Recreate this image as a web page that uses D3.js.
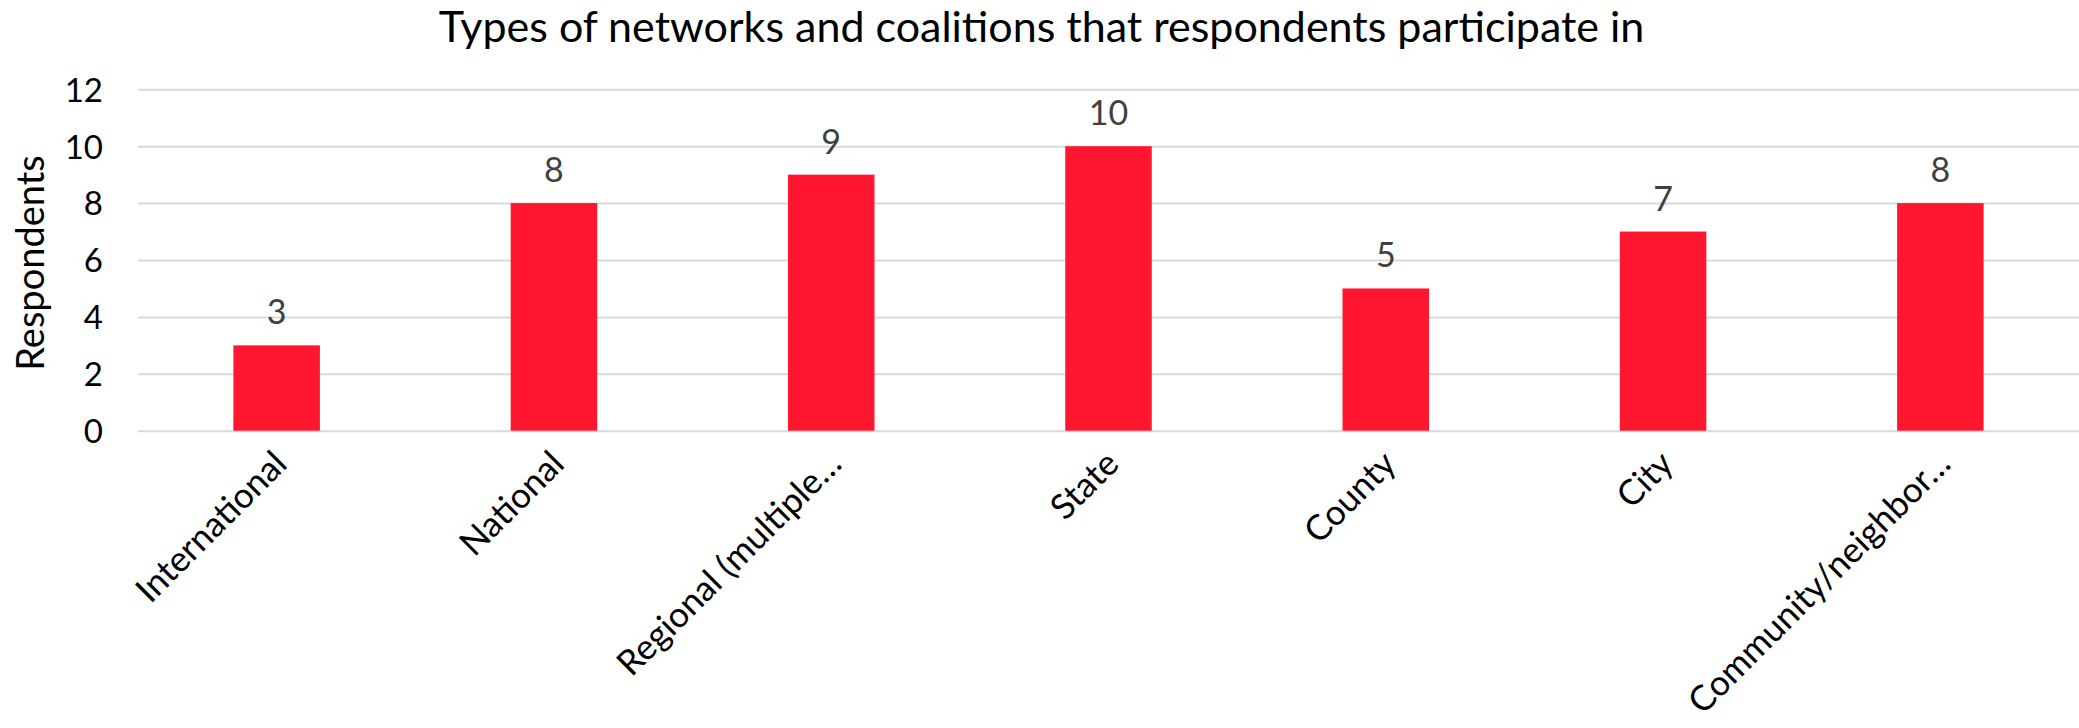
<!DOCTYPE html>
<html>
<head>
<meta charset="utf-8">
<script src="https://cdn.jsdelivr.net/npm/d3@7"></script>
<style>
  body { margin: 0; background: #fff; }
  text { font-family: Lato, "Open Sans", sans-serif; }
</style>
</head>
<body>
<div id="barChart"></div>
<script>
// chart data
var categories = ["International", "National", "Regional (multiple\u2026", "State", "County", "City", "Community/neighbor\u2026"];
var respondents = [3, 8, 9, 10, 5, 7, 8];
var yTicks = [0, 2, 4, 6, 8, 10, 12];

var W = 2079, H = 728;
var margin = { top: 89.3, right: 0, bottom: 297.3, left: 138 },
    width = W - margin.left - margin.right,
    height = H - margin.top - margin.bottom;

var svg = d3.select("#barChart")
    .append("svg")
    .attr("width", W)
    .attr("height", H);

var g = svg.append("g")
    .attr("transform", "translate(" + margin.left + "," + margin.top + ")");

var x = d3.scaleBand()
    .domain(categories)
    .range([0, width])
    .paddingInner(0.688)
    .paddingOuter(0.344);

var y = d3.scaleLinear()
    .domain([0, 12])
    .range([height, 0]);

// gridlines
g.append("g")
    .attr("class", "grid")
    .call(d3.axisLeft(y).tickValues(yTicks).tickSize(-width).tickFormat(""))
    .call(function (s) { s.select(".domain").remove(); })
    .selectAll("line")
    .attr("stroke", "#d9d9d9")
    .attr("stroke-width", 2);

// y axis labels
g.append("g")
    .attr("class", "y-axis")
    .attr("transform", "translate(-35,0)")
    .call(d3.axisLeft(y).tickValues(yTicks).tickSize(0).tickPadding(0))
    .call(function (s) { s.select(".domain").remove(); })
    .selectAll("text")
    .attr("fill", "#000")
    .attr("dy", "0.36em")
    .style("font-size", "33px");

// bars
g.selectAll(".bar")
    .data(respondents)
    .enter()
    .append("rect")
    .attr("class", "bar")
    .attr("x", function (d, i) { return x(categories[i]); })
    .attr("width", x.bandwidth())
    .attr("y", function (d) { return y(d); })
    .attr("height", function (d) { return height - y(d); })
    .attr("fill", "#ff172f");

// value labels
g.selectAll(".value")
    .data(respondents)
    .enter()
    .append("text")
    .attr("class", "value")
    .attr("x", function (d, i) { return x(categories[i]) + x.bandwidth() / 2; })
    .attr("y", function (d) { return y(d) - 21; })
    .attr("text-anchor", "middle")
    .attr("fill", "#404040")
    .style("font-size", "34px")
    .text(function (d) { return d; });

// category labels, rotated
g.append("g")
    .attr("class", "x-axis")
    .attr("transform", "translate(0," + height + ")")
    .call(d3.axisBottom(x).tickSize(0).tickPadding(0))
    .call(function (s) { s.select(".domain").remove(); })
    .selectAll("text")
    .attr("fill", "#000")
    .style("font-size", "35px")
    .style("text-anchor", "end")
    .attr("dy", null)
    .attr("y", null)
    .attr("transform", "translate(6,29) rotate(-45)")
    .attr("dominant-baseline", "middle");

// title
svg.append("text")
    .attr("x", 1041.5)
    .attr("y", 42)
    .attr("text-anchor", "middle")
    .attr("fill", "#000")
    .style("font-size", "43px")
    .text("Types of networks and coalitions that respondents participate in");

// y axis title
svg.append("text")
    .attr("transform", "translate(44,263) rotate(-90)")
    .attr("text-anchor", "middle")
    .attr("fill", "#000")
    .style("font-size", "38px")
    .text("Respondents");
</script>
</body>
</html>
